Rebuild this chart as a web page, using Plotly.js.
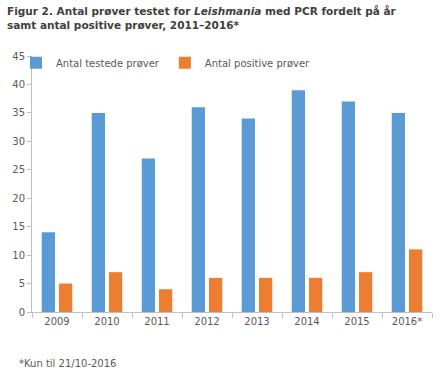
<!DOCTYPE html>
<html><head><meta charset="utf-8">
<script src="https://cdn.plot.ly/plotly-3.0.1.min.js"></script>
<style>html,body{margin:0;padding:0;background:#fff}#chart{width:440px;height:375px}</style>
</head><body><div id="chart"></div>
<script>
const years = ["2009","2010","2011","2012","2013","2014","2015","2016*"];
const tested = [14, 35, 27, 36, 34, 39, 37, 35];
const positive = [5, 7, 4, 6, 6, 6, 7, 11];
const seriesNames = ["Antal testede prøver", "Antal positive prøver"];
const titleText = "<b>Figur 2. Antal prøver testet for <i>Leishmania</i> med PCR fordelt på år<br>samt antal positive prøver, 2011–2016*</b>";
const footnote = "*Kun til 21/10-2016";
const txt = "#595959";
const font = "Verdana, 'DejaVu Sans', sans-serif";

const data = [
  {type:"bar", x:years, y:tested, name:seriesNames[0], marker:{color:"#5B9BD5"}, hoverinfo:"none"},
  {type:"bar", x:years, y:positive, name:seriesNames[1], marker:{color:"#ED7D31"}, hoverinfo:"none"}
];
const layout = {
  width:440, height:375,
  margin:{l:32, r:8, t:56, b:63},
  paper_bgcolor:"#fff", plot_bgcolor:"#fff",
  font:{family:font, size:10, color:txt},
  barmode:"group", bargap:0.31, bargroupgap:0.23,
  showlegend:true,
  legend:{orientation:"h", x:-0.04, xanchor:"left", y:1.03, yanchor:"top", font:{size:10, color:txt}, bgcolor:"rgba(0,0,0,0)", itemwidth:30, traceorder:"normal"},
  xaxis:{type:"category", showline:true, linecolor:"#BFBFBF", linewidth:1, ticks:"outside", tickson:"boundaries", ticklen:5, tickcolor:"#BFBFBF", showgrid:false, tickfont:{size:10, color:txt}, fixedrange:true},
  yaxis:{range:[0,45], dtick:5, showline:true, linecolor:"#BFBFBF", linewidth:1, ticks:"outside", ticklen:4, tickcolor:"#BFBFBF", showgrid:false, zeroline:false, tickfont:{size:10, color:txt}, fixedrange:true},
  annotations:[
    {text:titleText, xref:"paper", yref:"paper", x:(5-32)/400, y:(312-3)/256, xanchor:"left", yanchor:"top", align:"left", showarrow:false, font:{family:font, size:10.5, color:"#404040"}},
    {text:footnote, xref:"paper", yref:"paper", x:(17-32)/400, y:(312-363)/256, xanchor:"left", yanchor:"middle", showarrow:false, font:{size:10, color:txt}}
  ]
};
Plotly.newPlot("chart", data, layout, {displayModeBar:false, staticPlot:true});
</script></body></html>
